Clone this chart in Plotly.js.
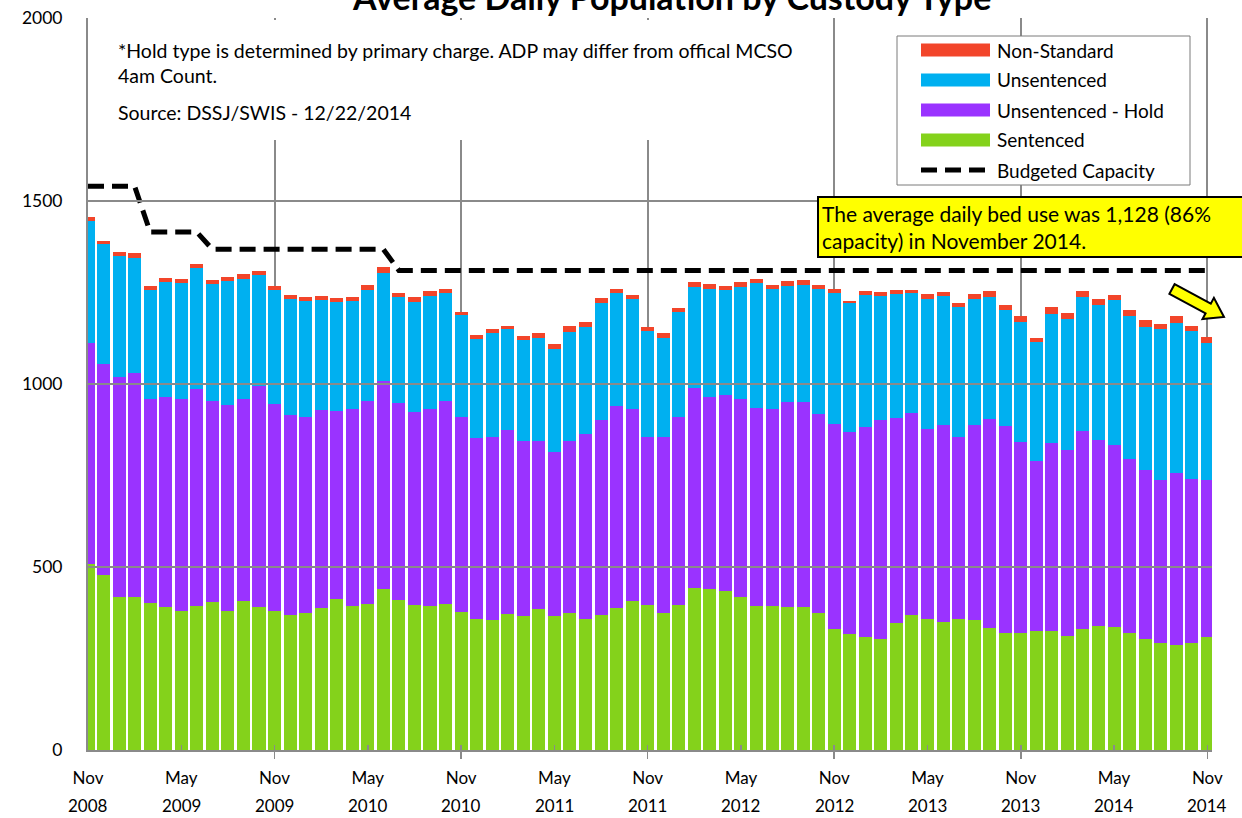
<!DOCTYPE html>
<html><head><meta charset="utf-8">
<script src="https://cdn.plot.ly/plotly-3.0.1.min.js"></script>
<style>html,body{margin:0;padding:0;background:#fff}</style>
</head><body>
<div id="chart" style="width:1242px;height:818px"></div>
<script>
// ---- DATA ----
const months = ['2008-11','2008-12',
 '2009-01','2009-02','2009-03','2009-04','2009-05','2009-06','2009-07','2009-08','2009-09','2009-10','2009-11','2009-12',
 '2010-01','2010-02','2010-03','2010-04','2010-05','2010-06','2010-07','2010-08','2010-09','2010-10','2010-11','2010-12',
 '2011-01','2011-02','2011-03','2011-04','2011-05','2011-06','2011-07','2011-08','2011-09','2011-10','2011-11','2011-12',
 '2012-01','2012-02','2012-03','2012-04','2012-05','2012-06','2012-07','2012-08','2012-09','2012-10','2012-11','2012-12',
 '2013-01','2013-02','2013-03','2013-04','2013-05','2013-06','2013-07','2013-08','2013-09','2013-10','2013-11','2013-12',
 '2014-01','2014-02','2014-03','2014-04','2014-05','2014-06','2014-07','2014-08','2014-09','2014-10','2014-11'];

const sentenced = [507,477,418,418,402,391,381,394,405,381,407,392,381,369,375,387,413,394,399,440,411,396,393,399,
 378,359,354,372,366,384,365,374,359,369,387,408,397,373,395,442,440,434,418,394,394,391,390,373,
 331,317,309,302,346,368,358,351,357,356,334,321,321,325,326,311,331,339,335,321,303,292,287,292,310];

const unsentencedHold = [604,578,602,611,556,573,577,592,549,561,551,603,565,545,536,541,513,537,555,567,536,528,539,554,
 532,493,500,501,478,461,450,471,505,533,553,525,457,483,515,547,525,537,541,541,539,560,560,544,
 559,552,573,599,560,552,520,536,499,531,570,563,521,464,512,510,541,507,499,475,463,445,469,449,429];

const unsentenced = [335,327,330,316,300,315,318,332,320,339,329,302,312,318,315,302,299,295,304,295,290,301,309,297,
 279,271,284,276,277,282,281,296,293,320,308,298,290,271,286,276,295,285,307,341,327,317,321,343,
 358,351,360,339,340,328,354,353,354,344,334,317,328,325,354,357,366,370,395,389,391,413,412,404,374];

const nonStandard = [11,8,11,14,10,11,11,10,10,11,13,13,11,11,12,10,11,12,12,17,13,12,12,10,
 9,12,11,10,11,11,13,17,13,13,12,12,11,12,12,14,13,13,12,11,10,13,12,10,
 12,8,12,11,11,10,14,11,11,16,15,15,16,12,18,15,15,16,15,16,17,15,17,13,15];

const budgetedCapacity = [1540,1540,1540,1540,1415,1415,1415,1415,1368,1368,1368,1368,1368,1368,1368,1368,1368,1368,1368,1368,
 1310,1310,1310,1310,1310,1310,1310,1310,1310,1310,1310,1310,1310,1310,1310,1310,1310,1310,1310,1310,
 1310,1310,1310,1310,1310,1310,1310,1310,1310,1310,1310,1310,1310,1310,1310,1310,1310,1310,1310,1310,
 1310,1310,1310,1310,1310,1310,1310,1310,1310,1310,1310,1310,1310];

const tickMonths = ['2008-11','2009-05','2009-11','2010-05','2010-11','2011-05','2011-11','2012-05','2012-11','2013-05','2013-11','2014-05','2014-11'];
const tickMonthText = ['Nov','May','Nov','May','Nov','May','Nov','May','Nov','May','Nov','May','Nov'];
const tickYearText = ['2008','2009','2009','2010','2010','2011','2011','2012','2012','2013','2013','2014','2014'];
const gridMonths = ['2008-11','2009-11','2010-11','2011-11','2012-11','2013-11','2014-11'];
const yTicks = [0,500,1000,1500,2000];

const seriesNames = ['Sentenced','Unsentenced - Hold','Unsentenced','Non-Standard'];
const legendOrder = ['Non-Standard','Unsentenced','Unsentenced - Hold','Sentenced'];
const colors = {'Sentenced':'#84d21b','Unsentenced - Hold':'#9a33ff','Unsentenced':'#00b0f0','Non-Standard':'#f2452a'};

// ---- LAYOUT HELPERS ----
const L=88, R=1212, T=18, B=750;
const px = x => (x-L)/(R-L);
const py = y => (B-y)/(B-T);
const FONT = 'Lato, "Open Sans", sans-serif';

const xIdx = months.map((m,i)=>i);
const idxOf = m => months.indexOf(m);

const seriesData = [sentenced, unsentencedHold, unsentenced, nonStandard];
const traces = seriesNames.map((n,k)=>({
  type:'bar', x:xIdx, y:seriesData[k], name:n,
  marker:{color:colors[n], line:{width:0}}, showlegend:false, hoverinfo:'y+name'
}));
traces.push({type:'scatter', mode:'lines', x:xIdx, y:budgetedCapacity, name:'Budgeted Capacity',
  line:{color:'#000', width:5, dash:'16px,8px'}, showlegend:false});

const shapes = [];
const annotations = [];
// horizontal grid lines drawn above bars
yTicks.slice(1,4).forEach(v=>shapes.push({type:'line', xref:'paper', yref:'y', x0:0, x1:1, y0:v, y1:v,
  line:{color:'#8a8a8a', width:2}, layer:'above'}));
// note box
shapes.push({type:'rect', xref:'paper', yref:'paper', x0:px(95), x1:px(825), y0:py(140), y1:py(20),
  fillcolor:'#fff', line:{width:0}, layer:'above'});
const noteFont = {family:FONT, size:19.5, color:'#000'};
annotations.push({xref:'paper', yref:'paper', x:px(116), y:py(50), xanchor:'left', yanchor:'middle', showarrow:false,
  text:'*Hold type is determined by primary charge. ADP may differ from offical MCSO', font:noteFont});
annotations.push({xref:'paper', yref:'paper', x:px(116), y:py(76), xanchor:'left', yanchor:'middle', showarrow:false,
  text:'4am Count.', font:noteFont});
annotations.push({xref:'paper', yref:'paper', x:px(116), y:py(113), xanchor:'left', yanchor:'middle', showarrow:false,
  text:'Source: DSSJ/SWIS - 12/22/2014', font:noteFont});

// legend box
shapes.push({type:'rect', xref:'paper', yref:'paper', x0:px(897), x1:px(1190), y0:py(185), y1:py(36),
  fillcolor:'#fff', line:{color:'#7a7a7a', width:1}, layer:'above'});
legendOrder.forEach((n,i)=>{
  const cy = 50 + 30*i;
  shapes.push({type:'rect', xref:'paper', yref:'paper', x0:px(921), x1:px(990), y0:py(cy+6.5), y1:py(cy-6.5),
    fillcolor:colors[n], line:{width:0}, layer:'above'});
  annotations.push({xref:'paper', yref:'paper', x:px(995), y:py(cy), xanchor:'left', yanchor:'middle', showarrow:false,
    text:n, font:{family:FONT, size:19, color:'#000'}});
});
shapes.push({type:'line', xref:'paper', yref:'paper', x0:px(921), x1:px(990), y0:py(170), y1:py(170),
  line:{color:'#000', width:5, dash:'16px,8px'}, layer:'above'});
annotations.push({xref:'paper', yref:'paper', x:px(995), y:py(170), xanchor:'left', yanchor:'middle', showarrow:false,
  text:'Budgeted Capacity', font:{family:FONT, size:19, color:'#000'}});

// title (partly above the top edge, as in the reference)
annotations.push({xref:'paper', yref:'paper', x:px(671), y:py(-4), xanchor:'center', yanchor:'middle', showarrow:false,
  text:'<b>Average Daily Population by Custody Type</b>', font:{family:FONT, size:34, color:'#000'}});

// callout
annotations.push({xref:'paper', yref:'paper', x:px(817), y:py(196), xanchor:'left', yanchor:'top', showarrow:false,
  align:'left', width:450, bgcolor:'#ffff00', bordercolor:'#000', borderwidth:2, borderpad:3,
  text:'The average daily bed use was 1,128 (86%<br>capacity) in November 2014.', font:{family:FONT, size:21, color:'#000'}});

// arrow
const arrowPts = [[1169.4,293.8],[1205.6,313.3],[1202.5,319.1],[1224,317],[1213.9,297.9],[1210.8,303.7],[1174.6,284.2]];
shapes.push({type:'path', xref:'paper', yref:'paper',
  path:'M'+arrowPts.map(p=>px(p[0])+','+py(p[1])).join(' L')+' Z',
  fillcolor:'#ffff00', line:{color:'#000', width:2}, layer:'above'});

// year labels under month tick labels
tickMonths.forEach((m,i)=>annotations.push({xref:'x', yref:'paper', x:idxOf(m), y:py(805), xanchor:'center', yanchor:'middle',
  showarrow:false, text:tickYearText[i], font:{family:FONT, size:17, color:'#000'}}));

const layout = {
  width:1242, height:818,
  margin:{l:L, r:1242-R, t:T, b:818-B, pad:0},
  paper_bgcolor:'#fff', plot_bgcolor:'#fff',
  barmode:'stack', bargap:0.16,
  font:{family:FONT, color:'#000'},
  showlegend:false,
  xaxis:{range:[0,72.3], tickmode:'array', tickvals:tickMonths.map(idxOf), ticktext:tickMonthText,
    showgrid:false, zeroline:false, showline:true, linecolor:'#8a8a8a', linewidth:2,
    ticks:'inside', ticklen:5, tickwidth:1.5, tickcolor:'#8a8a8a',
    tickfont:{family:FONT, size:17, color:'#000'}, ticklabelstandoff:12,
    minor:{tickmode:'array', tickvals:gridMonths.map(idxOf), showgrid:true, gridcolor:'#8a8a8a', gridwidth:2,
      ticks:'outside', ticklen:7, tickwidth:1.5, tickcolor:'#8a8a8a'},
    layer:'above traces', fixedrange:true},
  yaxis:{range:[0,2000], tickmode:'array', tickvals:yTicks, showgrid:false, zeroline:false,
    showline:true, linecolor:'#8a8a8a', linewidth:2, ticks:'', ticklabelstandoff:20,
    tickfont:{family:FONT, size:17.5, color:'#000'}, layer:'above traces', fixedrange:true},
  shapes:shapes, annotations:annotations
};
Plotly.newPlot('chart', traces, layout, {displayModeBar:false, staticPlot:true});
</script>
</body></html>
